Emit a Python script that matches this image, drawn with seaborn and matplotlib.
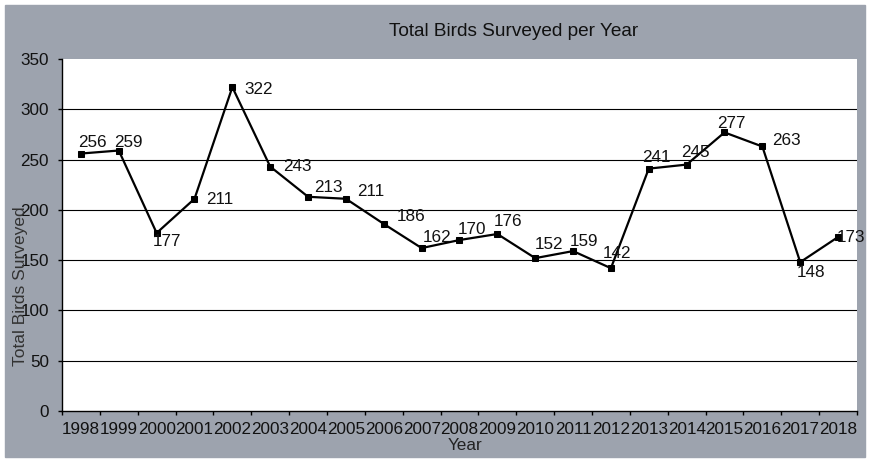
import numpy as np
import pandas as pd
import matplotlib.pyplot as plt
import seaborn as sns
from matplotlib.patches import Rectangle
from matplotlib.ticker import FixedLocator, MultipleLocator

# Data
years = [1998, 1999, 2000, 2001, 2002, 2003, 2004, 2005, 2006, 2007, 2008,
         2009, 2010, 2011, 2012, 2013, 2014, 2015, 2016, 2017, 2018]
birds = [256, 259, 177, 211, 322, 243, 213, 211, 186, 162, 170,
         176, 152, 159, 142, 241, 245, 277, 263, 148, 173]

# label placement (pixels: left edge offset, downward offset)
label_offsets = [(-3, -11), (-5, -8), (-4, 9), (12, 1), (12, 2), (13, 0),
                 (6, -9), (11, -7), (13, -7), (1, -11), (-2, -11), (-4, -12),
                 (0, -14), (-3, -10), (-8, -15), (-7, -11), (-6, -12),
                 (-7, -9), (10, -6), (-3, 10), (-1, 0)]

sns.set_theme(style='white')
plt.rcParams['font.family'] = ['Liberation Sans', 'DejaVu Sans']

GREY = '#9da3ae'
FS = 12.3
W, H = 870, 462
fig = plt.figure(figsize=(W / 100, H / 100), dpi=100, facecolor='white')
bg = Rectangle((5 / W, 5 / H), 860 / W, 452 / H, transform=fig.transFigure,
               color=GREY, zorder=-10)
fig.add_artist(bg)

ax = fig.add_axes([62 / W, (H - 411) / H, 795 / W, 352 / H])
ax.set_facecolor('white')

df = pd.DataFrame({'pos': np.arange(len(years)), 'Birds': birds})
sns.lineplot(data=df, x='pos', y='Birds', ax=ax, color='black', linewidth=1.6,
             marker='s', markersize=4.5, markeredgecolor='black', zorder=3)

for i, (v, (dx, dy)) in enumerate(zip(birds, label_offsets)):
    ax.annotate(str(v), (i, v), xytext=(dx, -dy), textcoords='offset pixels',
                ha='left', va='center', fontsize=FS, color='#111111',
                annotation_clip=False, zorder=4)

ax.set_xlim(-0.5, len(years) - 0.5)
ax.set_ylim(0, 350)
ax.yaxis.set_major_locator(MultipleLocator(50))
ax.set_xticks(np.arange(len(years)))
ax.set_xticklabels([str(y) for y in years])
ax.xaxis.set_minor_locator(FixedLocator(np.arange(len(years) + 1) - 0.5))
ax.tick_params(axis='x', which='major', length=0, pad=8, labelsize=FS,
               labelcolor='#111111')
ax.tick_params(axis='x', which='minor', length=3, width=1, color='black',
               direction='out', bottom=True)
ax.tick_params(axis='y', length=3, width=1, color='black', direction='out',
               left=True, pad=6.5, labelsize=FS, labelcolor='#111111')

for y in range(50, 350, 50):
    ax.axhline(y, color='black', linewidth=0.8, zorder=1)

for side in ['top', 'right']:
    ax.spines[side].set_visible(False)
for side in ['left', 'bottom']:
    ax.spines[side].set_color('black')
    ax.spines[side].set_linewidth(1.0)

ax.set_xlabel('Year', fontsize=FS, color='#222222', va='center')
ax.xaxis.set_label_coords((465 - 62) / 795, (411 - 445) / 352)
ax.set_ylabel('Total Birds Surveyed', fontsize=12.5, color='#333333')
ax.yaxis.set_label_coords((28 - 62) / 795, (411 - 286) / 352)

fig.text(514 / W, 1 - 29 / H, 'Total Birds Surveyed per Year', ha='center',
         va='center_baseline', fontsize=13.7, color='#111111')

fig.savefig('out.png', dpi=100, facecolor=fig.get_facecolor())
